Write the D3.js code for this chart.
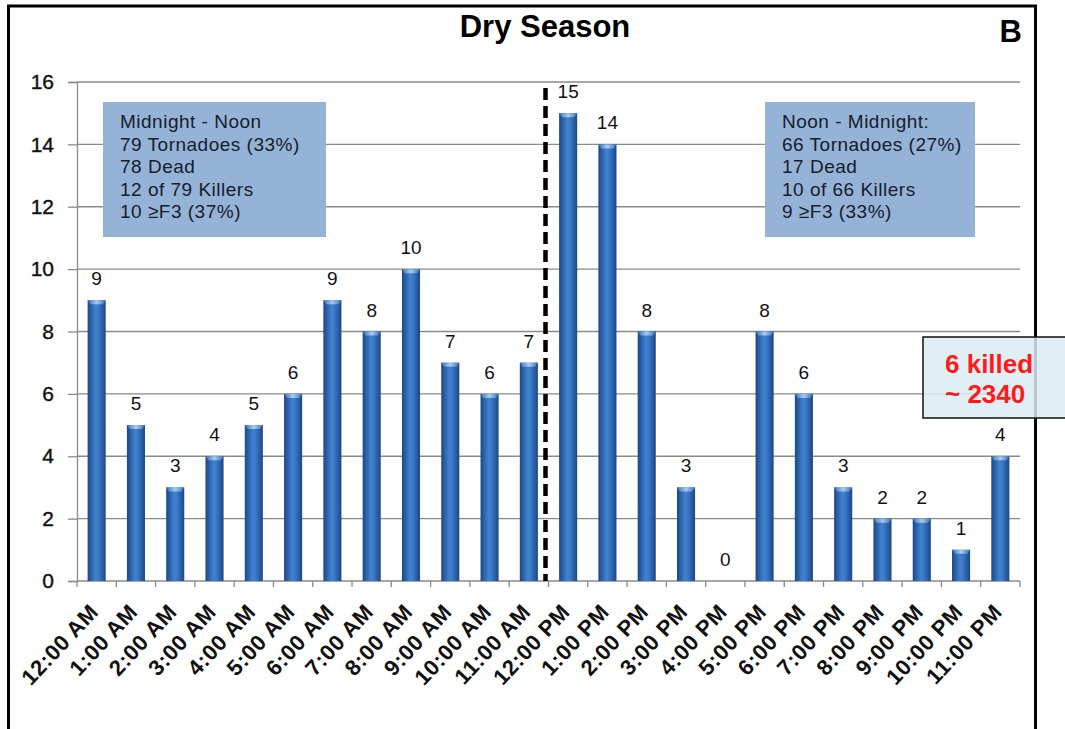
<!DOCTYPE html>
<html>
<head>
<meta charset="utf-8">
<script src="https://cdn.jsdelivr.net/npm/d3@7"></script>
<style>
  body { margin: 0; background: #fff; }
  svg { display: block; font-family: "Liberation Sans", Arial, sans-serif; }
</style>
</head>
<body>
<div id="viz"></div>
<script>
// hour labels and tornado counts (dry season)
const hours = [
  '12:00 AM', '1:00 AM', '2:00 AM', '3:00 AM', '4:00 AM', '5:00 AM',
  '6:00 AM', '7:00 AM', '8:00 AM', '9:00 AM', '10:00 AM', '11:00 AM',
  '12:00 PM', '1:00 PM', '2:00 PM', '3:00 PM', '4:00 PM', '5:00 PM',
  '6:00 PM', '7:00 PM', '8:00 PM', '9:00 PM', '10:00 PM', '11:00 PM'
];
const counts = [9, 5, 3, 4, 5, 6, 9, 8, 10, 7, 6, 7, 15, 14, 8, 3, 0, 8, 6, 3, 2, 2, 1, 4];
const yTicks = [0, 2, 4, 6, 8, 10, 12, 14, 16];

const amNotes = ['Midnight - Noon', '79 Tornadoes (33%)', '78 Dead', '12 of 79 Killers', '10 \u2265F3 (37%)'];
const pmNotes = ['Noon - Midnight:', '66 Tornadoes (27%)', '17 Dead', '10 of 66 Killers', '9 \u2265F3 (33%)'];
const killedNotes = ['6 killed', '~ 2340'];

const width = 1065;
const height = 729;
const margin = { left: 77, right: 45, top: 82, bottom: 148 };

const svg = d3.select('#viz').append('svg')
  .attr('width', width)
  .attr('height', height);

// bar gradient
const defs = svg.append('defs');
const grad = defs.append('linearGradient').attr('id', 'barGrad')
  .attr('x1', '0%').attr('x2', '100%').attr('y1', '0%').attr('y2', '0%');
grad.append('stop').attr('offset', '0%').attr('stop-color', '#1b4788');
grad.append('stop').attr('offset', '45%').attr('stop-color', '#4182d0');
grad.append('stop').attr('offset', '60%').attr('stop-color', '#3b79c7');
grad.append('stop').attr('offset', '100%').attr('stop-color', '#1b4788');

const capGrad = defs.append('linearGradient').attr('id', 'capGrad')
  .attr('x1', '0%').attr('x2', '100%');
capGrad.append('stop').attr('offset', '0%').attr('stop-color', '#3a6fb5');
capGrad.append('stop').attr('offset', '50%').attr('stop-color', '#a8ccf2');
capGrad.append('stop').attr('offset', '100%').attr('stop-color', '#3a6fb5');

// outer frame
svg.append('rect')
  .attr('x', 8.5).attr('y', 6)
  .attr('width', 1027).attr('height', 760)
  .attr('fill', 'none')
  .attr('stroke', '#000')
  .attr('stroke-width', 3);

const x = d3.scaleBand()
  .domain(hours)
  .range([margin.left, width - margin.right])
  .paddingInner(0.54)
  .paddingOuter(0.27);

const y = d3.scaleLinear()
  .domain([0, 16])
  .range([height - margin.bottom, margin.top]);

// gridlines
svg.append('g')
  .selectAll('line')
  .data(yTicks.filter(d => d > 0))
  .join('line')
  .attr('x1', margin.left).attr('x2', width - margin.right)
  .attr('y1', d => y(d)).attr('y2', d => y(d))
  .attr('stroke', '#8a8a8a')
  .attr('stroke-width', 1.3);

// y axis
const yAxis = svg.append('g')
  .attr('transform', `translate(${margin.left},0)`)
  .call(d3.axisLeft(y).tickValues(yTicks).tickSize(9).tickPadding(14));
yAxis.selectAll('line, path').attr('stroke', '#8a8a8a').attr('stroke-width', 1.3);
yAxis.selectAll('text')
  .attr('font-size', 21)
  .attr('fill', '#111')
  .attr('stroke', '#111')
  .attr('stroke-width', 0.4)
  .attr('font-family', '"Liberation Sans", Arial, sans-serif');

// x axis with ticks at band boundaries
const x0 = margin.left;
const step = (width - margin.right - margin.left) / hours.length;
const xAxis = svg.append('g');
xAxis.append('line')
  .attr('x1', x0).attr('x2', width - margin.right)
  .attr('y1', y(0)).attr('y2', y(0))
  .attr('stroke', '#8a8a8a').attr('stroke-width', 1.3);
xAxis.selectAll('.tk')
  .data(d3.range(hours.length + 1))
  .join('line')
  .attr('class', 'tk')
  .attr('x1', i => x0 + i * step).attr('x2', i => x0 + i * step)
  .attr('y1', y(0)).attr('y2', y(0) + 6)
  .attr('stroke', '#8a8a8a').attr('stroke-width', 1.3);

xAxis.selectAll('.lbl')
  .data(hours)
  .join('text')
  .attr('class', 'lbl')
  .attr('transform', d => `translate(${x(d) + x.bandwidth() / 2 + 3},${y(0) + 32}) rotate(-47)`)
  .attr('text-anchor', 'end')
  .attr('font-size', 22)
  .attr('font-weight', 'bold')
  .attr('letter-spacing', 0.6)
  .attr('fill', '#111')
  .text(d => d);

// bars
const bars = svg.append('g');
bars.selectAll('rect.bar')
  .data(counts)
  .join('rect')
  .attr('class', 'bar')
  .attr('x', (d, i) => x(hours[i]))
  .attr('y', d => y(d))
  .attr('width', x.bandwidth())
  .attr('height', d => y(0) - y(d))
  .attr('fill', 'url(#barGrad)');

// light bevel on bar tops
bars.selectAll('path.cap')
  .data(counts.map((d, i) => ({ d, i })).filter(o => o.d > 0))
  .join('path')
  .attr('class', 'cap')
  .attr('d', o => {
    const l = x(hours[o.i]);
    const w = x.bandwidth();
    const t = y(o.d);
    return `M${l},${t} L${l + w},${t} L${l + w - 3},${t + 4} L${l + 3},${t + 4} Z`;
  })
  .attr('fill', 'url(#capGrad)');

// value labels
svg.append('g')
  .selectAll('text')
  .data(counts)
  .join('text')
  .attr('x', (d, i) => x(hours[i]) + x.bandwidth() / 2)
  .attr('y', d => y(d) - 15)
  .attr('text-anchor', 'middle')
  .attr('font-size', 19)
  .attr('fill', '#111')
  .text(d => d);

// noon divider
const noonX = x0 + 12 * step - 3;
svg.append('line')
  .attr('x1', noonX).attr('x2', noonX)
  .attr('y1', 88).attr('y2', y(0))
  .attr('stroke', '#000')
  .attr('stroke-width', 4.5)
  .attr('stroke-dasharray', '12 6');

// note boxes
function noteBox(bx, bw, lines) {
  const g = svg.append('g');
  g.append('rect')
    .attr('x', bx).attr('y', 102)
    .attr('width', bw).attr('height', 135)
    .attr('fill', '#95b3d7');
  g.selectAll('text')
    .data(lines)
    .join('text')
    .attr('x', bx + 17)
    .attr('y', (d, i) => 128 + i * 22.5)
    .attr('font-size', 19)
    .attr('letter-spacing', 0.5)
    .attr('fill', '#161c2c')
    .text(d => d);
}
noteBox(103, 223, amNotes);
noteBox(765, 210, pmNotes);

// killed call-out
svg.append('rect')
  .attr('x', 923).attr('y', 337)
  .attr('width', 170).attr('height', 81)
  .attr('fill', '#dbecf2')
  .attr('fill-opacity', 0.85)
  .attr('stroke', '#111')
  .attr('stroke-width', 1.5);
svg.append('g')
  .selectAll('text')
  .data(killedNotes)
  .join('text')
  .attr('x', 945)
  .attr('y', (d, i) => 373 + i * 30)
  .attr('font-size', 26)
  .attr('font-weight', 'bold')
  .attr('fill', '#ff1a1a')
  .text(d => d);

// titles
svg.append('text')
  .attr('x', 545).attr('y', 37)
  .attr('text-anchor', 'middle')
  .attr('font-size', 31)
  .attr('font-weight', 'bold')
  .text('Dry Season');
svg.append('text')
  .attr('x', 1022).attr('y', 42)
  .attr('text-anchor', 'end')
  .attr('font-size', 31)
  .attr('font-weight', 'bold')
  .text('B');
</script>
</body>
</html>
